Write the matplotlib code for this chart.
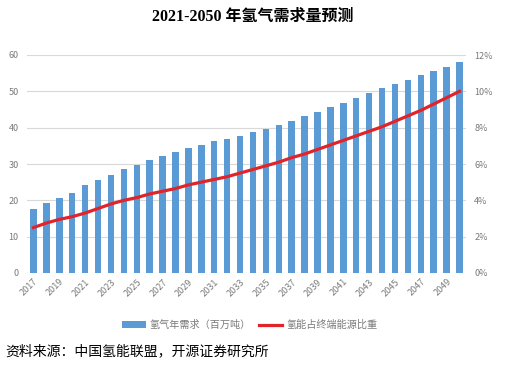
import matplotlib
matplotlib.use("Agg")
import matplotlib.pyplot as plt
import numpy as np

plt.rcParams['font.family'] = ['Noto Sans CJK SC', 'DejaVu Sans']

years = list(range(2017, 2051))
demand = [17.7, 19.4, 20.7, 22.1, 24.1, 25.6, 27.1, 28.7, 29.8, 31.2,
          32.1, 33.4, 34.4, 35.1, 36.2, 37.0, 37.8, 38.9, 39.7, 40.7,
          41.9, 43.1, 44.4, 45.8, 46.9, 48.3, 49.5, 50.8, 52.1, 53.2,
          54.4, 55.7, 56.8, 58.0]
share = [2.5, 2.75, 2.95, 3.1, 3.3, 3.55, 3.8, 4.0, 4.15, 4.35,
         4.5, 4.65, 4.85, 5.0, 5.15, 5.3, 5.5, 5.7, 5.9, 6.1,
         6.35, 6.55, 6.8, 7.05, 7.3, 7.55, 7.8, 8.05, 8.35, 8.65,
         8.95, 9.3, 9.65, 10.0]

grey = '#7a7a7a'
fig = plt.figure(figsize=(5.05, 3.66), dpi=100)
ax = fig.add_axes([27 / 505, 1 - 273 / 366, 439 / 505, 218 / 366])
x = np.arange(len(years))
b = ax.bar(x, demand, width=0.5, color='#5B9BD5', zorder=2, label='氢气年需求（百万吨）')
ax.set_xlim(-0.5, len(years) - 0.5)
ax.set_ylim(0, 60)
ax.set_yticks(range(0, 61, 10))
ax.grid(axis='y', color='#d9d9d9', linewidth=0.8, zorder=0)
for s in ax.spines.values():
    s.set_visible(False)
ax.tick_params(length=0, labelsize=6.5, labelcolor=grey, pad=6)
ax.tick_params(axis='x', pad=3)
ax.set_xticks(x[::2])
ax.set_xticklabels([str(y) for y in years[::2]], rotation=45, ha='right',
                   rotation_mode='anchor')

ax2 = ax.twinx()
l, = ax2.plot(x, share, color='#E0242A', linewidth=2.3, zorder=3, label='氢能占终端能源比重')
ax2.set_ylim(0, 12)
ax2.set_yticks(range(0, 13, 2))
ax2.set_yticklabels([f'{v}%' for v in range(0, 13, 2)])
for s in ax2.spines.values():
    s.set_visible(False)
ax2.tick_params(length=0, labelsize=6.5, labelcolor=grey, pad=6)

fig.legend(handles=[b, l], loc='center', bbox_to_anchor=(250 / 505, 1 - 325 / 366),
           ncol=2, frameon=False, fontsize=7.3, handlelength=2.3, columnspacing=0.8,
           handletextpad=0.4, labelcolor=grey)

fig.text(0.5, 1 - 17 / 366, '2021-2050 年氢气需求量预测', ha='center', va='center',
         fontsize=11.5, fontweight='bold', family=['Liberation Serif', 'Noto Sans CJK SC'])
fig.text(5 / 505, 1 - 351 / 366, '资料来源：中国氢能联盟，开源证券研究所', ha='left',
         va='center', fontsize=10)

fig.savefig('out.png', dpi=100)
